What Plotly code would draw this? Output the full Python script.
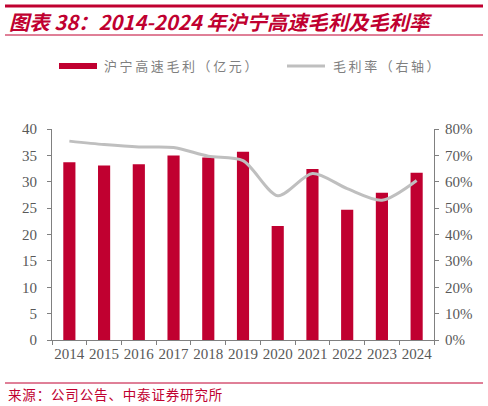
import plotly.graph_objects as go

years = ['2014', '2015', '2016', '2017', '2018', '2019', '2020', '2021', '2022', '2023', '2024']
gross_profit = [33.7, 33.1, 33.3, 35.0, 34.6, 35.7, 21.6, 32.4, 24.7, 27.9, 31.7]
gross_margin = [0.754, 0.741, 0.732, 0.730, 0.697, 0.680, 0.547, 0.631, 0.574, 0.530, 0.605]

bar_name = '沪宁高速毛利（亿元）'
line_name = '毛利率（右轴）'
title_text = '图表 38：2014-2024 年沪宁高速毛利及毛利率'
source_text = '来源：公司公告、中泰证券研究所'

RED = '#c00030'
LINE_GREY = '#bfbfbf'
GREY_TXT = '#595959'
SERIF = 'Liberation Serif, DejaVu Serif, serif'
CJK = 'Noto Sans CJK SC'

W, H = 488, 406
L, R, T, B = 52, 434, 129, 340


def px(x):
    # pixel -> paper x
    return (x - L) / (R - L)


def py(y):
    # pixel -> paper y
    return (B - y) / (B - T)


def spaced(s, sep='\u2009'):
    return sep.join(s)


fig = go.Figure()

fig.add_trace(go.Bar(x=years, y=gross_profit, name=bar_name,
                     marker=dict(color=RED, line=dict(width=0))))

fig.add_trace(go.Scatter(x=years, y=gross_margin, name=line_name,
                         mode='lines',
                         line=dict(color=LINE_GREY, width=3, shape='spline', smoothing=0.8),
                         yaxis='y2'))

axis_style = dict(showline=True, linecolor='#808080', linewidth=1,
                  ticks='outside', ticklen=4, tickcolor='#808080',
                  showgrid=False, zeroline=False, automargin=False,
                  tickfont=dict(family=SERIF, size=15, color=GREY_TXT))

fig.update_layout(
    width=W, height=H,
    margin=dict(l=L, r=W - R, t=T, b=H - B),
    paper_bgcolor='white', plot_bgcolor='white',
    bargap=0.65,
    showlegend=False,
    xaxis=dict(axis_style, tickson='boundaries', tickangle=0),
    yaxis=dict(axis_style, range=[0, 40], dtick=5, ticklabelstandoff=7),
    yaxis2=dict(axis_style, range=[0, 0.8], dtick=0.1, tickformat='.0%',
                overlaying='y', side='right', ticklabelstandoff=3),
)

# header / footer rules
for y, w in [(6, 3), (35, 1), (383, 1)]:
    fig.add_shape(type='line', xref='paper', yref='paper', x0=px(5), x1=px(483),
                  y0=py(y), y1=py(y), line=dict(color=RED, width=w))

fig.add_annotation(xref='paper', yref='paper', x=px(7), y=py(21),
                   xanchor='left', yanchor='middle', showarrow=False,
                   text='<b><i>' + title_text + '</i></b>',
                   font=dict(family=CJK, size=20.3, color=RED))
fig.add_annotation(xref='paper', yref='paper', x=px(6), y=py(394),
                   xanchor='left', yanchor='middle', showarrow=False,
                   text=spaced(source_text, '\u200a'),
                   font=dict(family=CJK, size=13.5, color=RED))

# hand-made legend
fig.add_shape(type='rect', xref='paper', yref='paper', x0=px(59), x1=px(97),
              y0=py(69), y1=py(63), line=dict(width=0), fillcolor=RED)
fig.add_annotation(xref='paper', yref='paper', x=px(102), y=py(66),
                   xanchor='left', yanchor='middle', showarrow=False,
                   text=spaced(bar_name),
                   font=dict(family=CJK, size=13, color='#7f7f7f'))
fig.add_shape(type='line', xref='paper', yref='paper', x0=px(287), x1=px(325),
              y0=py(66), y1=py(66), line=dict(color=LINE_GREY, width=3))
fig.add_annotation(xref='paper', yref='paper', x=px(331), y=py(66),
                   xanchor='left', yanchor='middle', showarrow=False,
                   text=spaced(line_name),
                   font=dict(family=CJK, size=13, color='#7f7f7f'))

# drop the default page margin so the figure sits at the window's corner
fig.write_html('out.html', config={'displayModeBar': False},
               post_script="document.body.style.margin='0';")
